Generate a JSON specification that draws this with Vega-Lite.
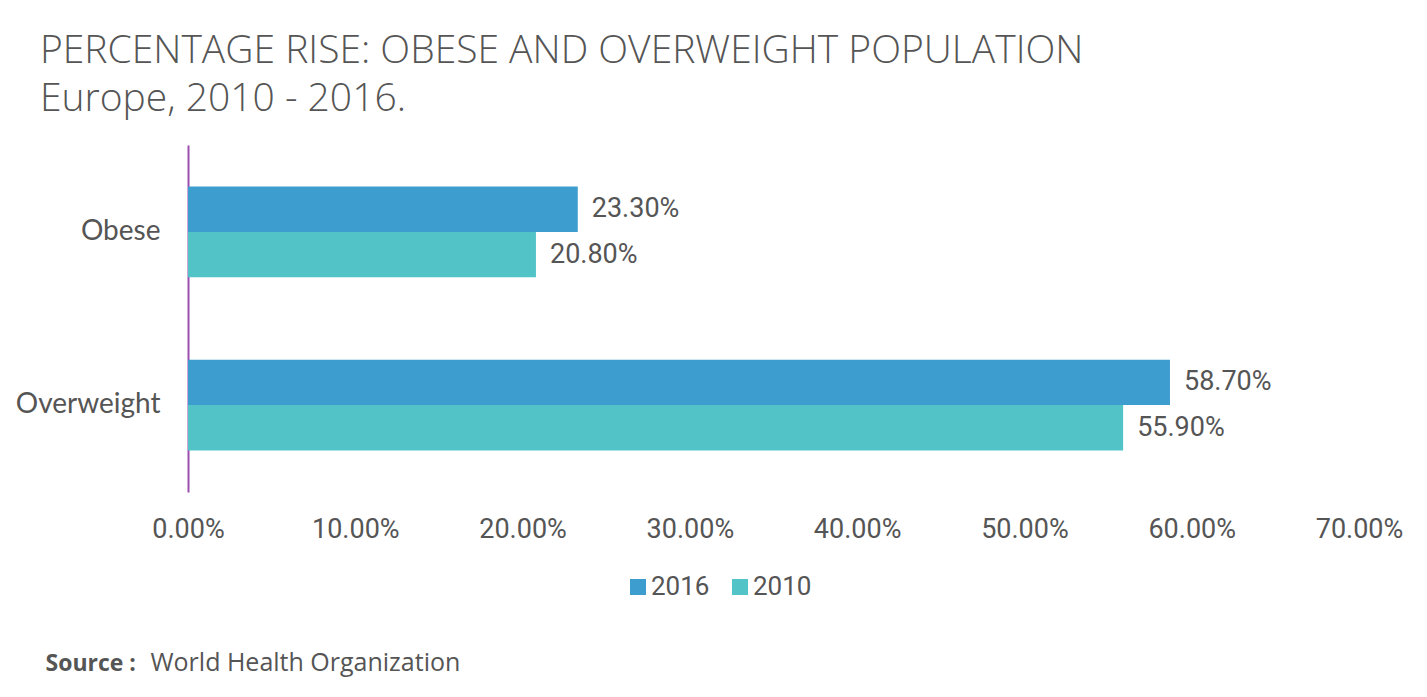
{
  "$schema": "https://vega.github.io/schema/vega-lite/v6.json",
  "autosize": "none",
  "width": 1171,
  "height": 347,
  "padding": {"left": 188, "top": 145, "right": 68, "bottom": 205},
  "background": "white",
  "config": {"view": {"stroke": null}},
  "title": {
    "text": "PERCENTAGE RISE: OBESE AND OVERWEIGHT POPULATION",
    "subtitle": "Europe, 2010 - 2016.",
    "anchor": "start",
    "frame": "group",
    "orient": "top",
    "dx": -148,
    "offset": 26,
    "font": "Open Sans",
    "fontSize": 39,
    "fontWeight": 300,
    "color": "#555555",
    "subtitleFont": "Open Sans",
    "subtitleFontSize": 39,
    "subtitleFontWeight": 300,
    "subtitleColor": "#555555",
    "subtitlePadding": 9
  },
  "data": {
    "values": [
      {"category": "Obese", "year": "2016", "value": 23.3, "label": "23.30%"},
      {"category": "Obese", "year": "2010", "value": 20.8, "label": "20.80%"},
      {"category": "Overweight", "year": "2016", "value": 58.7, "label": "58.70%"},
      {"category": "Overweight", "year": "2010", "value": 55.9, "label": "55.90%"}
    ]
  },
  "encoding": {
    "y": {
      "field": "category",
      "type": "nominal",
      "sort": ["Obese", "Overweight"],
      "scale": {"paddingInner": 0.477, "paddingOuter": 0.24},
      "axis": {
        "title": "Source :",
        "titleAngle": 0,
        "titleAnchor": "start",
        "titleAlign": "left",
        "titleBaseline": "alphabetic",
        "titleX": -143,
        "titleY": 525,
        "titleFont": "Open Sans",
        "titleFontSize": 23,
        "titleFontWeight": "bold",
        "titleColor": "#555555",
        "domain": true,
        "domainColor": "#9b4fb0",
        "domainWidth": 2,
        "ticks": false,
        "grid": false,
        "labelPadding": 28,
        "labelFont": "Lato",
        "labelFontSize": 28,
        "labelColor": "#555555"
      }
    },
    "yOffset": {"field": "year", "type": "nominal", "sort": ["2016", "2010"], "scale": {"paddingInner": 0, "paddingOuter": 0}}
  },
  "layer": [
    {
      "mark": {"type": "bar"},
      "encoding": {
        "x": {
          "field": "value",
          "type": "quantitative",
          "scale": {"domain": [0, 70], "nice": false},
          "axis": {
            "values": [0, 10, 20, 30, 40, 50, 60, 70],
            "labelExpr": "format(datum.value, '.2f') + '%'",
            "domain": false,
            "ticks": false,
            "grid": false,
            "labelPadding": 24,
            "labelFont": "Roboto",
            "labelFontSize": 27,
            "labelColor": "#555555",
            "labelFlush": false,
            "title": "World Health Organization",
            "titleAnchor": "start",
            "titleAlign": "left",
            "titleBaseline": "alphabetic",
            "titleX": -38,
            "titleY": 178,
            "titleFont": "Open Sans",
            "titleFontSize": 25,
            "titleFontWeight": "normal",
            "titleColor": "#555555"
          }
        },
        "color": {
          "field": "year",
          "type": "nominal",
          "sort": ["2016", "2010"],
          "scale": {"domain": ["2016", "2010"], "range": ["#3d9dce", "#52c4c7"]},
          "legend": {
            "title": null,
            "orient": "none",
            "direction": "horizontal",
            "legendX": 437,
            "legendY": 429,
            "symbolType": "square",
            "symbolSize": 256,
            "symbolStrokeWidth": 0,
            "labelFont": "Roboto",
            "labelFontSize": 26,
            "labelColor": "#555555",
            "labelOffset": 0,
            "columnPadding": 17
          }
        }
      }
    },
    {
      "mark": {"type": "text", "align": "left", "baseline": "middle", "dx": 14, "font": "Roboto", "fontSize": 27, "color": "#555555"},
      "encoding": {
        "x": {"field": "value", "type": "quantitative"},
        "text": {"field": "label"}
      }
    }
  ]
}
